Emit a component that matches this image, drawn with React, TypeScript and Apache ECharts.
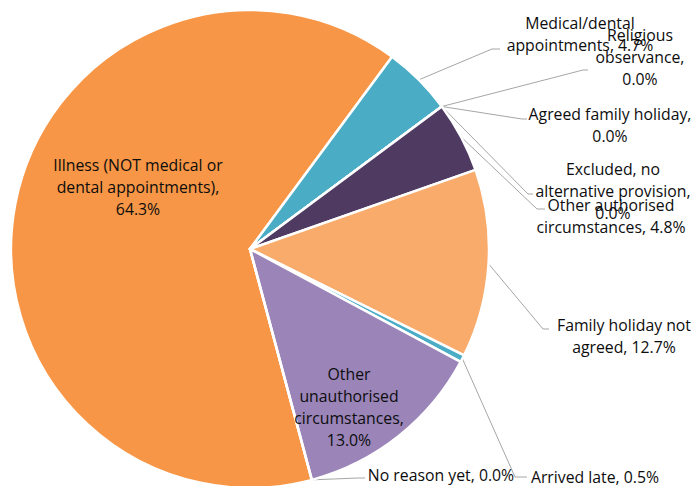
import React, { useEffect, useRef } from "react";
import * as echarts from "echarts";

const categories = [
  "Illness (NOT medical or dental appointments)",
  "Medical/dental appointments",
  "Religious observance",
  "Agreed family holiday",
  "Excluded, no alternative provision",
  "Other authorised circumstances",
  "Family holiday not agreed",
  "Arrived late",
  "Other unauthorised circumstances",
  "No reason yet",
];
const values = [64.3, 4.7, 0.0, 0.0, 0.0, 4.8, 12.7, 0.5, 13.0, 0.0];
const colors = [
  "#F79646", "#4BACC6", "#8064A2", "#9BBB59", "#C0504D",
  "#4F3B62", "#F9AB6B", "#4BACC6", "#9A84B8", "#7F7F7F",
];
// how many words go on each line of a label
const lineWordCounts = [[4, 2, 1], [1, 2], [1, 1, 1], [3, 1], [2, 2, 1], [2, 2], [3, 2], [3], [1, 1, 1, 1], [4]];
const insideLabels = [0, 8];

// label layout (centre of each label block) and leader line elbows
const labelCenters: [number, number][] = [
  [138, 187], [580, 34], [640, 57], [610, 125], [613, 191],
  [611, 216], [624, 336], [595, 477], [349, 407], [441, 475],
];
const leaderBends: ([number, number][] | null)[] = [
  null,
  [[492, 49], [500, 49]],
  [[583, 70], [588, 70]],
  [[522, 119], [527, 119]],
  [[528, 194], [533, 194]],
  [[537, 209], [545, 209]],
  [[543, 329], [549, 329]],
  [[515, 477], [527, 477]],
  null,
  [[358, 478], [365, 478]],
];

export default function App() {
  const ref = useRef<HTMLDivElement>(null);
  useEffect(() => {
    if (!ref.current) return;
    const chart = echarts.init(ref.current, undefined, { renderer: "svg" });
    const data = categories.map((name, i) => {
      const inside = insideLabels.includes(i);
      const singleLine = lineWordCounts[i].length === 1;
      return {
        name,
        value: values[i],
        itemStyle: { color: colors[i] },
        label: singleLine
          ? { position: inside ? "inside" : "outside", lineHeight: 17 }
          : { position: inside ? "inside" : "outside" },
        labelLine: { show: !inside },
      };
    });
    chart.setOption({
      animation: false,
      backgroundColor: "#ffffff",
      series: [
        {
          type: "pie",
          center: [250, 249],
          radius: 239,
          startAngle: -75,
          clockwise: true,
          avoidLabelOverlap: false,
          silent: true,
          itemStyle: { borderColor: "#ffffff", borderWidth: 2.5 },
          label: {
            show: true,
            fontFamily: "Open Sans",
            fontSize: 15.8,
            lineHeight: 22,
            color: "#0d0d0d",
            align: "center",
            formatter: (p: any) => {
              const words = `${p.name}, ${Number(p.value).toFixed(1)}%`.split(" ");
              let k = 0;
              return lineWordCounts[p.dataIndex]
                .map((c) => {
                  const s = words.slice(k, k + c).join(" ");
                  k += c;
                  return s;
                })
                .join("\n");
            },
          },
          labelLine: {
            show: true,
            lineStyle: { color: "#A6A6A6", width: 1 },
          },
          labelLayout: (params: any) => {
            const i = params.dataIndex;
            const [x, y] = labelCenters[i];
            const res: any = { x, y, align: "center", verticalAlign: "middle" };
            const bend = leaderBends[i];
            if (bend && params.labelLinePoints) {
              res.labelLinePoints = [
                [params.labelLinePoints[0][0], params.labelLinePoints[0][1]],
                bend[0],
                bend[1],
              ];
            }
            return res;
          },
          emphasis: { disabled: true },
          data,
        },
      ],
    });
    return () => chart.dispose();
  }, []);
  return (
    <div
      ref={ref}
      style={{ position: "absolute", left: 0, top: 0, width: 697, height: 486 }}
    />
  );
}
